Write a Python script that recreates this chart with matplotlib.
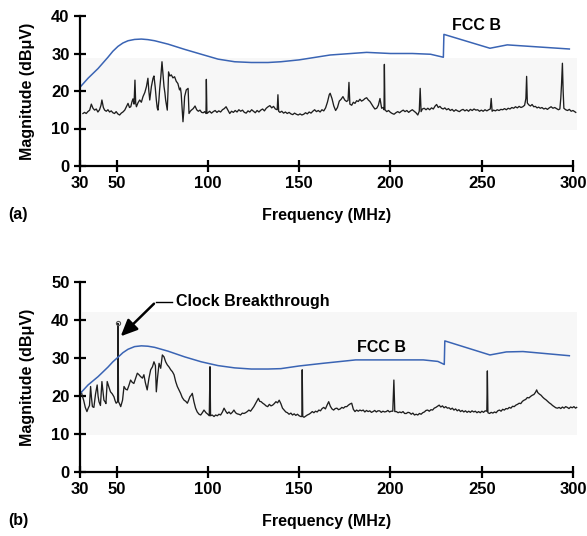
import numpy as np
import matplotlib
matplotlib.use("Agg")
import matplotlib.pyplot as plt

plt.rcParams['font.family'] = ['Liberation Sans', 'DejaVu Sans']
plt.rcParams['font.weight'] = 'bold'

# FCC class B limit (MHz, dBuV)
fcc_a_f = [30, 34.4, 39.9, 45.3, 48.0, 50.8, 53.5, 56.3, 59.9, 63.6, 67.2, 70.9, 78.2, 87.3, 96.4, 105.6,
           114.7, 123.8, 133, 140, 150, 167, 187, 200, 212, 222, 229, 229.3, 254.5, 264, 298]
fcc_a_v = [21.0, 23.4, 26.0, 29.0, 30.6, 31.9, 32.8, 33.4, 33.75, 33.85, 33.7, 33.4, 32.5, 31.1, 29.8, 28.5,
           27.8, 27.6, 27.6, 27.8, 28.3, 29.6, 30.3, 30.0, 30.0, 29.8, 29.0, 35.1, 31.4, 32.3, 31.2]
fcc_b_f = [30, 34.4, 39.9, 45.3, 48.0, 50.8, 53.5, 56.3, 59.9, 63.6, 67.2, 70.9, 78.2, 87.3, 96.4, 105.6,
           114.7, 123.8, 133, 140, 150, 163, 181, 200, 218, 226, 229.5, 229.8, 254.5, 263.5, 272.6, 298]
fcc_b_v = [20.6, 22.9, 25.1, 27.6, 29.0, 30.2, 31.4, 32.3, 33.0, 33.2, 33.1, 32.8, 31.8, 30.3, 29.0, 28.0,
           27.4, 27.1, 27.1, 27.2, 27.9, 28.6, 29.5, 29.5, 29.5, 29.1, 28.3, 34.5, 30.8, 31.6, 31.7, 30.6]

# measured emission, panel (a): (MHz, dBuV)
trace_a = [
    (31.6, 14.0), (32.5, 14.3), (33.4, 14.0), (34.3, 14.5), (35.3, 14.9), (36.2, 16.5), (37.1, 15.4),
    (38.0, 14.9), (38.9, 15.2), (39.8, 14.4), (40.7, 15.0), (41.5, 16.2), (42.0, 17.6), (42.8, 15.6),
    (43.5, 14.9), (44.4, 14.6), (45.3, 15.0), (46.2, 14.4), (47.1, 14.7), (48.0, 14.2), (48.9, 14.0),
    (49.8, 14.5), (50.7, 13.9), (51.7, 13.6), (52.6, 14.1), (53.5, 14.4), (54.5, 14.9), (55.4, 15.8),
    (56.3, 16.7), (57.1, 15.6), (57.8, 15.8), (58.5, 17.2), (59.0, 17.9), (59.6, 16.5), (60.1, 22.9),
    (60.5, 16.8), (60.9, 15.8), (61.8, 16.9), (62.7, 17.6), (63.6, 17.0), (64.5, 18.5), (65.5, 19.6),
    (66.4, 21.2), (67.2, 23.4), (67.7, 20.0), (68.2, 17.6), (69.1, 21.2), (70.0, 23.4), (70.5, 24.0),
    (71.2, 21.0), (71.8, 17.6), (72.3, 15.5), (72.7, 14.9), (73.2, 17.5), (73.6, 20.3), (74.3, 24.0),
    (74.9, 27.8), (75.5, 24.0), (76.0, 21.2), (76.5, 19.5), (76.9, 17.6), (77.4, 16.0), (77.8, 14.9),
    (78.2, 20.0), (78.5, 25.1), (79.2, 24.0), (80.0, 24.3), (80.9, 23.5), (81.8, 23.8), (82.7, 22.6),
    (83.6, 22.0), (84.1, 21.0), (84.5, 20.3), (85.0, 20.8), (85.4, 19.4), (85.9, 15.5), (86.4, 11.8),
    (86.9, 15.0), (87.3, 18.5), (88.2, 20.3), (89.2, 20.7), (89.7, 14.0), (90.4, 14.6), (91.0, 14.9),
    (92.0, 15.3), (93.0, 16.0), (93.9, 15.0), (94.8, 14.6), (95.7, 14.9), (96.6, 14.3), (97.5, 14.2),
    (98.3, 14.5), (99.0, 14.0), (99.2, 23.1), (99.5, 14.0), (100, 14.2), (101, 14.6), (102, 14.1),
    (103, 14.5), (104, 14.8), (105, 14.3), (106, 14.7), (107, 14.4), (108, 15.0), (109, 15.3),
    (110, 15.8), (111, 14.9), (112, 14.0), (113, 14.6), (114, 14.3), (115, 14.8), (116, 14.4),
    (117, 15.0), (118, 14.6), (119, 14.9), (120, 14.3), (121, 14.1), (122, 14.7), (123, 14.4),
    (124, 15.0), (125, 14.6), (126, 14.2), (127, 14.8), (128, 14.4), (129, 14.9), (130, 15.2),
    (131, 14.7), (132, 15.4), (133, 15.8), (134, 16.1), (135, 15.5), (136, 15.9), (137, 15.2),
    (138, 15.0), (138.4, 19.0), (138.8, 14.6), (139.5, 14.3), (140.5, 14.6), (141.5, 14.1),
    (142.5, 14.4), (143.5, 14.0), (144.5, 14.3), (145.5, 13.9), (146.5, 13.7), (147.5, 14.1),
    (148.5, 13.8), (149.5, 13.6), (150.5, 13.9), (151.5, 13.6), (152.5, 13.8), (153.5, 14.2),
    (154.5, 13.9), (155.5, 14.4), (156.5, 14.1), (157.5, 14.6), (158.5, 15.0), (159.5, 14.5),
    (160.5, 14.8), (161.5, 14.4), (162.5, 15.0), (163.5, 14.7), (164.5, 15.5), (165.5, 17.0),
    (166.5, 19.0), (167, 19.4), (168, 18.0), (169, 16.0), (170, 14.8), (171, 15.6), (172, 17.3),
    (173, 17.8), (174, 18.5), (175, 17.6), (176, 17.2), (176.8, 17.5), (177.3, 22.3), (177.8, 16.5),
    (178.8, 16.2), (179.7, 17.0), (180.6, 16.7), (181.5, 17.4), (182.4, 17.2), (183.3, 17.8),
    (184.2, 17.3), (185.2, 17.6), (186.1, 18.0), (187.0, 18.2), (187.9, 17.6), (188.8, 17.2),
    (189.7, 16.5), (190.6, 15.8), (191.5, 15.2), (192.5, 15.4), (193.4, 16.2), (194.3, 18.0),
    (195.2, 15.4), (196.0, 15.6), (196.5, 15.0), (196.7, 27.1), (197.0, 15.0), (198, 14.5),
    (199, 14.8), (200, 14.3), (201, 14.0), (202, 13.8), (203, 14.2), (204, 14.5), (205, 14.2),
    (206, 14.6), (207, 14.9), (208, 14.5), (209, 14.8), (210, 14.3), (211, 14.7), (212, 15.0),
    (213, 14.6), (214, 14.2), (215, 13.6), (215.8, 14.6), (216.3, 20.7), (216.8, 14.5), (217.5, 15.2),
    (218.5, 15.4), (219.5, 15.0), (220.5, 15.4), (221.5, 15.0), (222.5, 15.5), (223.5, 15.2),
    (224.5, 16.0), (225.3, 16.4), (226.2, 15.6), (227.1, 15.9), (228.0, 15.4), (228.9, 15.2),
    (229.8, 15.5), (230.8, 15.0), (231.8, 15.3), (232.8, 14.8), (233.8, 15.1), (234.8, 14.6),
    (235.8, 15.0), (236.8, 14.7), (237.8, 14.5), (238.8, 14.9), (239.8, 15.1), (240.8, 14.7),
    (241.8, 15.0), (242.8, 14.6), (243.8, 15.1), (244.8, 14.8), (245.8, 15.2), (246.8, 14.9),
    (247.8, 15.0), (248.8, 14.6), (249.8, 14.9), (250.8, 14.6), (251.8, 15.0), (252.8, 14.7),
    (253.8, 15.0), (254.7, 15.2), (255.2, 18.0), (255.7, 14.6), (256.5, 14.9), (257.5, 14.7),
    (258.5, 15.0), (259.5, 14.8), (260.5, 15.1), (261.5, 15.0), (262.5, 15.3), (263.5, 15.0),
    (264.5, 15.4), (265.5, 15.2), (266.5, 15.6), (267.5, 15.4), (268.5, 15.8), (269.5, 15.5),
    (270.5, 15.9), (271.5, 15.6), (272.5, 15.8), (273.5, 16.2), (274.2, 18.0), (274.6, 23.9),
    (275.0, 16.8), (275.8, 16.3), (276.7, 16.0), (277.6, 16.4), (278.5, 15.8), (279.4, 15.9),
    (280.3, 15.5), (281.2, 15.7), (282.1, 15.4), (283.0, 15.6), (284.0, 15.2), (285.0, 15.4),
    (286.0, 15.1), (287.0, 15.5), (288.0, 15.8), (289.0, 15.4), (290.0, 15.6), (291.0, 15.3),
    (292.0, 15.0), (292.8, 15.2), (293.3, 18.0), (293.7, 21.6), (294.2, 27.4), (294.6, 20.0),
    (295.0, 15.4), (296.0, 15.0), (297.0, 14.8), (298.0, 15.1), (299.0, 14.6), (300.0, 14.8),
    (301.5, 14.3),
]

# measured emission, panel (b): (MHz, dBuV)
trace_b = [
    (30.7, 21.1), (31.3, 20.0), (32.0, 18.9), (32.9, 17.0), (33.8, 15.9), (34.5, 16.8), (35.2, 17.5),
    (35.8, 22.5), (36.3, 19.5), (36.8, 17.2), (37.6, 17.0), (38.5, 20.5), (39.0, 21.8), (39.4, 22.9),
    (39.9, 20.0), (40.4, 18.5), (41.2, 17.5), (41.6, 20.5), (42.0, 23.8), (42.6, 21.0), (43.1, 18.9),
    (43.7, 18.5), (44.2, 18.0), (44.9, 23.8), (45.8, 22.4), (46.7, 21.1), (47.6, 20.6), (48.6, 19.8),
    (49.2, 18.8), (49.8, 18.1), (50.6, 18.5), (50.8, 39.1), (51.1, 18.5), (51.7, 17.9), (52.3, 17.2),
    (53.3, 18.9), (54.1, 22.5), (55.0, 21.8), (55.9, 21.6), (56.8, 22.8), (57.7, 24.2), (58.6, 23.6),
    (59.5, 23.3), (60.4, 24.6), (61.4, 26.0), (62.3, 25.6), (63.2, 25.1), (64.2, 24.7), (65.0, 25.6),
    (65.8, 23.5), (66.8, 21.6), (67.7, 24.5), (68.7, 26.9), (69.7, 27.7), (70.5, 29.0), (71.3, 28.0),
    (71.8, 21.1), (72.5, 25.0), (73.3, 28.6), (74.2, 27.3), (75.1, 30.8), (76.0, 30.3), (76.9, 29.0),
    (77.8, 28.2), (78.8, 27.6), (79.7, 26.9), (80.6, 26.4), (81.5, 25.6), (82.4, 23.8), (83.3, 22.5),
    (84.2, 21.6), (85.1, 20.7), (86.0, 19.6), (87.0, 18.9), (87.9, 18.6), (88.8, 18.1), (89.5, 18.9),
    (90.2, 19.8), (90.9, 20.2), (91.5, 20.7), (92.4, 18.5), (93.3, 16.8), (94.2, 15.8), (95.2, 15.2),
    (96.1, 15.0), (97.0, 15.6), (97.9, 16.3), (99.0, 15.6), (100.0, 15.2), (100.8, 14.8),
    (101.2, 27.7), (101.5, 14.8), (102.4, 15.0), (103.4, 14.6), (104.3, 15.0), (105.2, 14.8),
    (106.1, 15.2), (107.0, 15.0), (108.0, 15.8), (108.9, 16.8), (109.8, 16.0), (110.7, 15.4),
    (111.6, 15.8), (112.5, 15.3), (113.4, 15.7), (114.3, 16.3), (115.2, 15.6), (116.1, 15.3),
    (117.0, 15.2), (117.9, 15.0), (118.9, 15.5), (119.8, 15.4), (120.7, 15.6), (121.6, 15.9),
    (122.5, 16.3), (123.4, 16.0), (124.3, 16.6), (125.2, 17.2), (126.1, 18.0), (127.0, 18.8),
    (127.7, 19.4), (128.4, 18.6), (129.2, 18.5), (130.1, 18.1), (131.0, 17.8), (131.9, 17.4),
    (132.8, 17.2), (133.7, 17.8), (134.6, 17.4), (135.5, 17.6), (136.4, 18.0), (137.3, 18.5),
    (138.2, 18.2), (139.1, 18.9), (140.0, 18.0), (140.9, 16.8), (141.8, 16.3), (142.7, 15.8),
    (143.6, 15.6), (144.5, 15.2), (145.5, 15.5), (146.4, 15.0), (147.3, 15.3), (148.2, 14.9),
    (149.1, 15.2), (150.0, 14.8), (150.9, 14.6), (151.5, 14.6), (151.7, 26.9), (152.0, 14.6),
    (152.7, 14.4), (153.6, 14.7), (154.5, 15.0), (155.4, 15.2), (156.3, 15.5), (157.2, 15.9),
    (158.1, 15.6), (159.0, 16.0), (159.9, 15.8), (160.8, 16.3), (161.7, 16.1), (162.6, 16.7),
    (163.5, 17.0), (164.4, 16.6), (165.3, 17.6), (166.2, 18.5), (167.1, 17.3), (168.0, 16.6),
    (168.9, 16.3), (169.8, 16.7), (170.7, 16.8), (171.6, 16.4), (172.5, 16.6), (173.4, 17.0),
    (174.3, 16.8), (175.2, 17.2), (176.1, 17.2), (177.0, 17.6), (177.9, 17.9), (178.8, 18.1),
    (179.7, 16.5), (180.6, 15.9), (181.5, 16.3), (182.4, 16.0), (183.3, 16.3), (184.2, 16.1),
    (185.1, 16.3), (186.0, 15.8), (186.9, 16.2), (187.8, 15.9), (188.7, 16.1), (189.6, 15.7),
    (190.5, 15.9), (191.4, 16.2), (192.3, 15.8), (193.2, 16.1), (194.1, 16.1), (195.0, 15.7),
    (195.9, 16.0), (196.8, 15.8), (197.7, 15.9), (198.6, 16.2), (199.5, 15.8), (200.4, 16.0),
    (201.3, 16.0), (201.9, 24.2), (202.4, 15.9), (203.3, 15.9), (204.2, 15.6), (205.1, 15.8),
    (206.0, 15.6), (206.9, 15.9), (207.8, 15.4), (208.7, 15.4), (209.6, 15.7), (210.5, 15.6),
    (211.4, 15.2), (212.3, 15.5), (213.2, 15.0), (214.1, 15.2), (215.0, 15.0), (215.9, 15.4),
    (216.8, 15.2), (217.7, 15.6), (218.6, 15.8), (219.5, 16.2), (220.4, 16.3), (221.3, 16.0),
    (222.2, 16.4), (223.1, 16.3), (224.0, 16.8), (224.9, 17.0), (225.8, 17.3), (226.7, 17.6),
    (227.6, 17.1), (228.5, 17.4), (229.4, 16.9), (230.3, 17.2), (231.2, 16.8), (232.1, 16.9),
    (233.0, 16.5), (233.9, 16.8), (234.8, 16.3), (235.7, 16.6), (236.6, 16.1), (237.5, 16.4),
    (238.4, 15.9), (239.3, 16.2), (240.2, 15.8), (241.1, 16.1), (242.0, 15.7), (242.9, 16.0),
    (243.8, 15.7), (244.7, 16.1), (245.6, 15.8), (246.5, 16.0), (247.4, 15.6), (248.3, 15.9),
    (249.2, 15.6), (250.1, 16.0), (251.0, 15.7), (251.9, 16.1), (252.8, 16.0), (253.1, 26.6),
    (253.4, 15.6), (254.3, 15.4), (255.2, 15.7), (256.1, 15.5), (257.0, 15.8), (257.9, 15.6),
    (258.8, 16.1), (259.7, 16.3), (260.6, 16.0), (261.5, 16.5), (262.4, 16.3), (263.3, 16.7),
    (264.2, 16.6), (265.1, 17.0), (266.0, 16.8), (266.9, 17.3), (267.8, 17.2), (268.7, 17.6),
    (269.6, 17.8), (270.5, 18.1), (271.4, 18.0), (272.3, 18.6), (273.2, 18.9), (274.1, 19.1),
    (275.0, 19.6), (275.9, 19.5), (276.8, 19.9), (277.7, 20.2), (278.6, 20.4), (279.5, 21.0),
    (280.1, 21.6), (280.7, 20.9), (281.6, 20.5), (282.5, 20.2), (283.4, 19.7), (284.3, 19.3),
    (285.2, 19.0), (286.1, 18.6), (287.0, 18.2), (287.9, 17.9), (288.8, 17.5), (289.7, 17.2),
    (290.6, 16.9), (291.5, 16.8), (292.4, 17.0), (293.3, 16.7), (294.2, 17.1), (295.1, 16.8),
    (296.0, 17.2), (296.9, 17.0), (297.8, 16.7), (298.7, 17.1), (299.6, 16.9), (300.5, 17.2),
    (301.4, 16.8), (302.0, 17.0),
]

xticks = [30, 50, 100, 150, 200, 250, 300]
blue = '#3a64b4'
fs = 11.5

fig = plt.figure(figsize=(5.87, 5.36), dpi=100)
ax_a = fig.add_axes([80/587, 1-166/536, 493/587, 150/536])
ax_b = fig.add_axes([80/587, 1-472/536, 493/587, 190/536])


def style(ax, ymax):
    ax.set_xlim(30, 300)
    ax.set_ylim(0, ymax)
    ax.set_xticks(xticks)
    ax.set_yticks(np.arange(0, ymax + 1, 10))
    for s in ['top', 'right']:
        ax.spines[s].set_visible(False)
    for s in ['left', 'bottom']:
        ax.spines[s].set_linewidth(1.6)
    ax.tick_params(direction='inout', length=9, width=1.6, labelsize=12, pad=3)
    ax.set_xlabel('Frequency (MHz)', fontsize=fs, fontweight='bold', labelpad=12)
    ax.set_ylabel('Magnitude (dBμV)', fontsize=fs, fontweight='bold', labelpad=12)


fa, va = zip(*trace_a)
fb, vb = zip(*trace_b)

# panel (a)
ax_a.fill_between([31, 302], 9.6, 28.8, color='#f7f7f7', lw=0, clip_on=False, zorder=0)
ax_a.plot(fa, va, color='#1e1e1e', lw=0.95, clip_on=False)
ax_a.plot(fcc_a_f, fcc_a_v, color=blue, lw=1.1)
ax_a.text(233.5, 37.5, 'FCC B', fontsize=fs, fontweight='bold', va='center')
style(ax_a, 40)

# panel (b)
ax_b.fill_between([31, 302], 9.7, 42.2, color='#f7f7f7', lw=0, clip_on=False, zorder=0)
ax_b.plot(fb, vb, color='#1e1e1e', lw=0.95, clip_on=False)
ax_b.plot([50.8], [39.1], 'o', ms=3, mfc='none', mec='#555555', mew=0.8)
ax_b.plot(fcc_b_f, fcc_b_v, color=blue, lw=1.1)
ax_b.text(181.5, 32.8, 'FCC B', fontsize=fs, fontweight='bold', va='center')
ax_b.plot([71.6, 80.2], [44.8, 44.8], color='black', lw=1.0)
ax_b.annotate('', xy=(51.2, 35.2), xytext=(71.6, 44.8),
              arrowprops=dict(arrowstyle='-|>,head_length=1.0,head_width=0.45', color='black', lw=1.8))
ax_b.text(82.6, 44.8, 'Clock Breakthrough', fontsize=fs, fontweight='bold', va='center')
style(ax_b, 50)

fig.text(8/587, 1-215/536, '(a)', fontsize=fs, fontweight='bold', va='center')
fig.text(8/587, 1-521/536, '(b)', fontsize=fs, fontweight='bold', va='center')

fig.savefig('out.png', dpi=100)
